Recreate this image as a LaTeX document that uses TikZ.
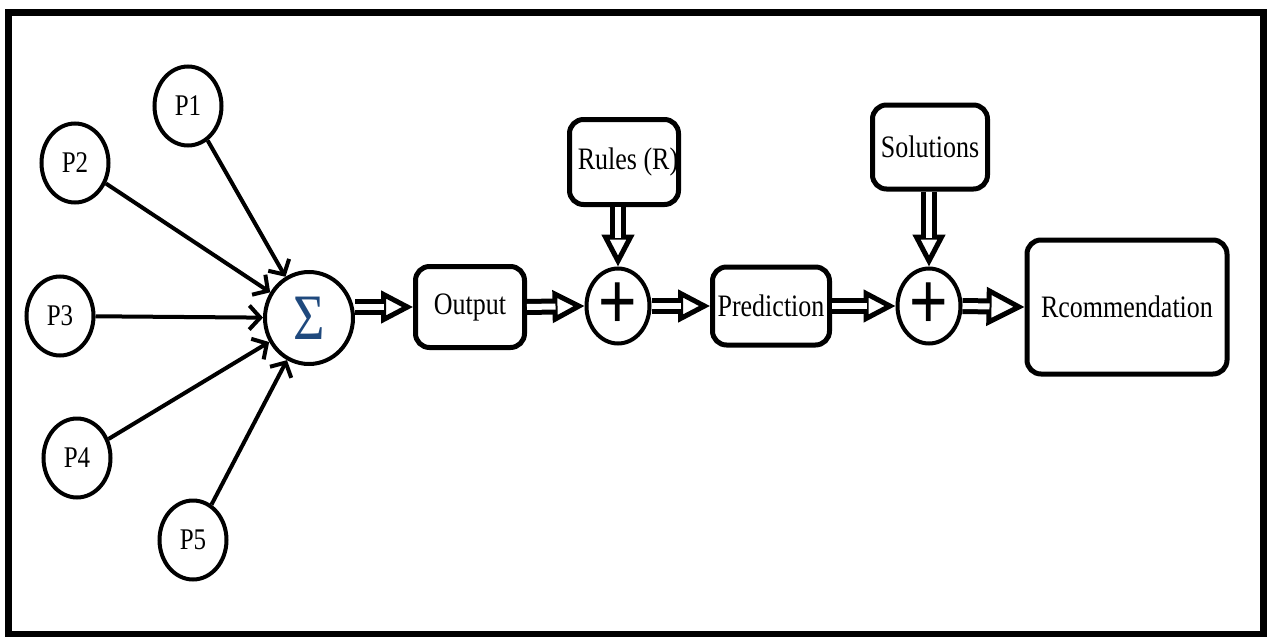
\documentclass[tikz,border=0pt]{standalone}
\usepackage{fontspec}
\setmainfont{Liberation Serif}
\setsansfont{Liberation Sans}
\usepackage{graphicx}
\usetikzlibrary{arrows.meta,shapes.geometric}

\definecolor{sigmablue}{RGB}{31,73,125}
\newcommand{\tallText}[1]{\scalebox{1}[1.2]{#1}}
% hollow block arrow: head first, double shaft on top
\newcommand{\hollowTo}[3][32pt]{%
  \draw[hollowhead=#1] #2 -- #3;
  \draw[hollowshaft=#1] #2 -- #3;}

\begin{document}
\begin{tikzpicture}[x=1pt,y=-1pt,
    inp/.style={ellipse,draw,line width=4pt,minimum width=67pt,minimum height=79pt,
                inner sep=0pt,font=\fontsize{25}{25}\selectfont},
    summer/.style={ellipse,draw,line width=4pt,minimum width=63pt,minimum height=75pt,
                inner sep=0pt,font=\fontsize{66}{66}\selectfont\sffamily},
    block/.style={draw,rounded corners=14pt,line width=5pt,inner sep=0pt,
                font=\fontsize{26}{26}\selectfont},
    feed/.style={line width=4pt,-{Straight Barb[length=11pt,width=24pt]}},
    hollowhead/.style={line width=5pt,-{Triangle[open,length=#1,width=#1,line width=5pt]}},
    hollowshaft/.style={line width=5pt,double=white,double distance=6pt,shorten >=#1-3pt}]

  \useasboundingbox (0,0) rectangle (1267,637);
  \draw[line width=7pt] (8.5,12.5) rectangle (1263.5,634.5);

  % inputs
  \node[inp] (p1) at (188,106) {\tallText{P1}};
  \node[inp] (p2) at (75,163)  {\tallText{P2}};
  \node[inp] (p3) at (60,316)  {\tallText{P3}};
  \node[inp] (p4) at (77,458)  {\tallText{P4}};
  \node[inp] (p5) at (193,540) {\tallText{P5}};

  \node[ellipse,draw,line width=4pt,minimum width=88pt,minimum height=92pt,inner sep=0pt,
        text=sigmablue,font=\fontsize{54}{54}\selectfont] (sigma) at (309,318) {\tallText{Σ}};

  % main chain
  \node[block,minimum width=109pt,minimum height=81pt]  (output)     at (470,307)  {\tallText{Output}};
  \node[summer] (plusR) at (618,306) {\tallText{+}};
  \node[block,minimum width=109pt,minimum height=85pt]  (rules)      at (624,162)  {\hspace{8pt}\tallText{Rules (R)}};
  \node[block,minimum width=117pt,minimum height=78pt]  (prediction) at (771,306)  {\tallText{Prediction}};
  \node[summer] (plusS) at (929,306) {\tallText{+}};
  \node[block,minimum width=115pt,minimum height=84pt]  (solutions)  at (930,147)  {\tallText{Solutions}};
  \node[block,minimum width=200pt,minimum height=134pt] (rcomm)      at (1127,307) {\tallText{Rcommendation}};

  \foreach \p in {p1,p2,p3,p4,p5}
    \draw[feed] (\p) -- (sigma);

  \hollowTo{(sigma.east |- output.west)}{(output.west)}
  \hollowTo{(output.east)}{(plusR.west)}
  \hollowTo{(rules.south -| plusR.north)}{(plusR.north)}
  \hollowTo{(plusR.east)}{(prediction.west)}
  \hollowTo{(prediction.east)}{(plusS.west)}
  \hollowTo{(solutions.south -| plusS.north)}{(plusS.north)}
  \hollowTo[38pt]{(plusS.east)}{(rcomm.west)}
\end{tikzpicture}
\end{document}
